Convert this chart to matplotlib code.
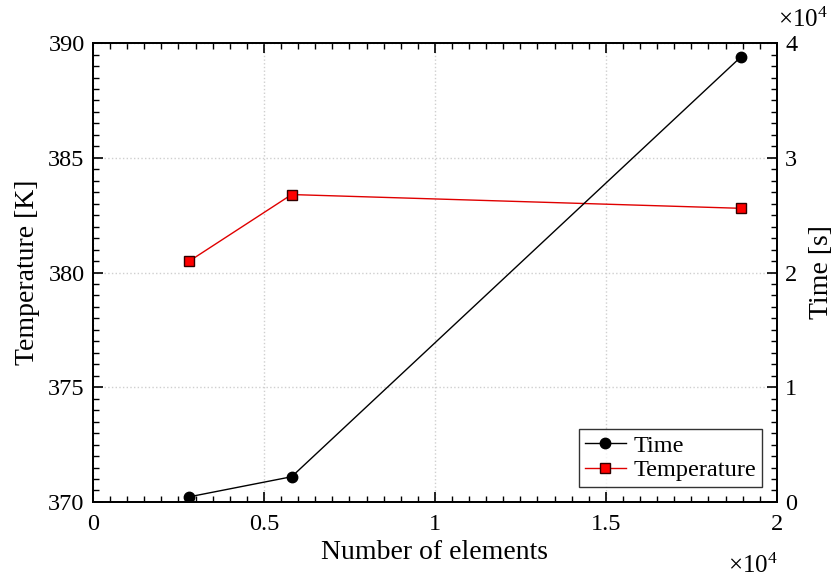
import matplotlib
matplotlib.use("Agg")
import matplotlib.pyplot as plt
from matplotlib.ticker import FixedLocator, MultipleLocator, FuncFormatter

plt.rcParams['font.family'] = ['Liberation Serif', 'DejaVu Serif']
plt.rcParams['mathtext.fontset'] = 'custom'
plt.rcParams['mathtext.rm'] = 'Liberation Serif'
plt.rcParams['mathtext.it'] = 'Liberation Serif:italic'

# Data
elements = [2816, 5810, 18950]
time_s = [450, 2200, 38800]
temperature_K = [380.5, 383.4, 382.8]

x_ticks = [0, 5000, 10000, 15000, 20000]
temp_ticks = [370, 375, 380, 385, 390]
time_ticks = [0, 10000, 20000, 30000, 40000]

fig = plt.figure(figsize=(8.38, 5.83), dpi=100)
ax = fig.add_axes([0.111, 0.139, 0.816, 0.787])
ax2 = ax.twinx()

fs_tick = 17.5
fs_label = 20

# Temperature (left axis)
lt, = ax.plot(elements, temperature_K, color='#e00000', lw=1.0, marker='s',
              markersize=7, markerfacecolor='#ff0000', markeredgecolor='#300000',
              markeredgewidth=1.0, label='Temperature', zorder=3)
# Time (right axis)
lb, = ax2.plot(elements, time_s, color='black', lw=1.0, marker='o',
               markersize=7.5, markerfacecolor='black', markeredgecolor='black',
               label='Time', zorder=3)

ax.set_xlim(0, 20000)
ax.set_ylim(370, 390)
ax2.set_ylim(0, 40000)

ax.xaxis.set_major_locator(FixedLocator(x_ticks))
ax.xaxis.set_minor_locator(MultipleLocator(500))
ax.xaxis.set_major_formatter(FuncFormatter(lambda v, p: ('%g' % (v / 1e4))))
ax.yaxis.set_major_locator(FixedLocator(temp_ticks))
ax.yaxis.set_minor_locator(MultipleLocator(0.5))
ax2.yaxis.set_major_locator(FixedLocator(time_ticks))
ax2.yaxis.set_minor_locator(MultipleLocator(1000))
ax2.yaxis.set_major_formatter(FuncFormatter(lambda v, p: ('%g' % (v / 1e4))))

ax.tick_params(axis='x', which='both', direction='in', top=True, bottom=True,
               labelsize=fs_tick, pad=9)
ax.tick_params(axis='y', which='both', direction='in', left=True, right=False,
               labelsize=fs_tick, pad=6)
ax2.tick_params(axis='y', which='both', direction='in', left=False, right=True,
                labelsize=fs_tick, pad=6)
for a in (ax, ax2):
    a.tick_params(which='major', length=7, width=1.2)
    a.tick_params(which='minor', length=4, width=1.0)
    for s in a.spines.values():
        s.set_linewidth(1.3)
        s.set_color('black')

ax.grid(True, which='major', linestyle=':', color='#cfcfcf', linewidth=1.0)
ax.set_axisbelow(True)

ax.set_xlabel('Number of elements', fontsize=fs_label, labelpad=3)
ax.set_ylabel('Temperature [K]', fontsize=fs_label, labelpad=6)
ax2.set_ylabel('Time [s]', fontsize=fs_label, labelpad=8)

fig.text(0.928, 0.008, r'$\times10^{4}$', fontsize=18, ha='right', va='bottom')
fig.text(0.928, 0.945, r'$\times10^{4}$', fontsize=18, ha='left', va='bottom')

leg = ax2.legend(handles=[lb, lt], loc='lower right', fontsize=fs_tick,
                 frameon=True, fancybox=False, edgecolor='black',
                 borderaxespad=0.6, handlelength=1.7, handletextpad=0.3,
                 borderpad=0.25, labelspacing=0.1)
leg.get_frame().set_linewidth(1.0)

fig.savefig('out.png', dpi=100)
